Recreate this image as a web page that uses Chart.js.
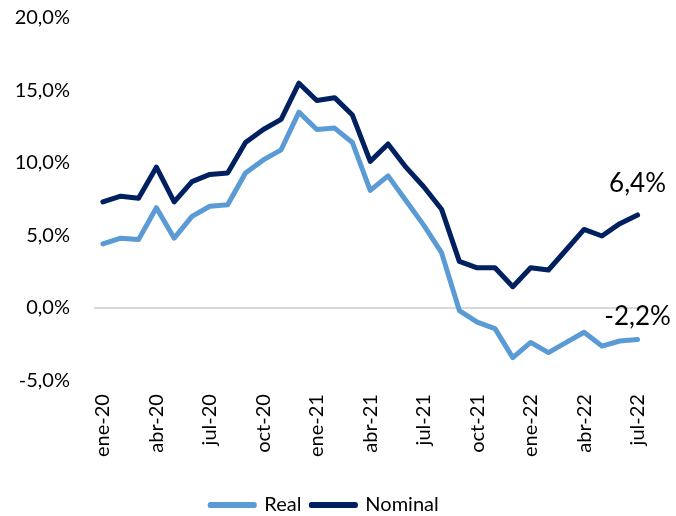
<!DOCTYPE html>
<html>
<head>
<meta charset="utf-8">
<script src="https://cdn.jsdelivr.net/npm/chart.js"></script>
<style>
  html, body { margin: 0; padding: 0; background: #fff; }
  #wrap { width: 676px; height: 516px; }
</style>
</head>
<body>
<div id="wrap"><canvas id="grafico" width="676" height="516"></canvas></div>
<script>
const meses = ['ene-20','feb-20','mar-20','abr-20','may-20','jun-20','jul-20','ago-20','sep-20','oct-20','nov-20','dic-20',
  'ene-21','feb-21','mar-21','abr-21','may-21','jun-21','jul-21','ago-21','sep-21','oct-21','nov-21','dic-21',
  'ene-22','feb-22','mar-22','abr-22','may-22','jun-22','jul-22'];
const real = [4.4, 4.8, 4.7, 6.9, 4.8, 6.3, 7.0, 7.1, 9.3, 10.2, 10.9, 13.5,
  12.3, 12.4, 11.4, 8.1, 9.1, 7.4, 5.7, 3.8, -0.2, -1.0, -1.45, -3.45,
  -2.4, -3.1, -2.4, -1.7, -2.65, -2.3, -2.2];
const nominal = [7.3, 7.7, 7.55, 9.7, 7.3, 8.7, 9.2, 9.3, 11.4, 12.3, 13.0, 15.5,
  14.3, 14.5, 13.3, 10.1, 11.3, 9.7, 8.35, 6.8, 3.2, 2.75, 2.75, 1.45,
  2.75, 2.6, 4.0, 5.4, 4.95, 5.8, 6.4];
const yTicks = [-5, 0, 5, 10, 15, 20];
const etiquetasFinal = ['-2,2%', '6,4%'];

const fuente = 'Lato, "Liberation Sans", sans-serif';
const fmt = v => v.toFixed(1).replace('.', ',') + '%';

// etiquetas al final de cada serie
const finalLabels = {
  id: 'finalLabels',
  afterDatasetsDraw(chart) {
    const c = chart.ctx;
    c.save();
    c.font = '26px ' + fuente;
    c.fillStyle = '#000';
    c.textAlign = 'center';
    c.textBaseline = 'bottom';
    chart.data.datasets.forEach((ds, i) => {
      const pt = chart.getDatasetMeta(i).data[ds.data.length - 1];
      c.fillText(etiquetasFinal[i], pt.x, pt.y - (i === 1 ? 18 : 10));
    });
    c.restore();
  }
};

new Chart(document.getElementById('grafico'), {
  type: 'line',
  data: {
    labels: meses,
    datasets: [{
      label: 'Real',
      data: real,
      borderColor: '#5B9BD5',
      backgroundColor: '#5B9BD5',
      borderWidth: 5,
      pointRadius: 0,
      borderJoinStyle: 'round',
      borderCapStyle: 'round',
      tension: 0
    }, {
      label: 'Nominal',
      data: nominal,
      borderColor: '#002060',
      backgroundColor: '#002060',
      borderWidth: 5,
      pointRadius: 0,
      borderJoinStyle: 'round',
      borderCapStyle: 'round',
      tension: 0
    }]
  },
  options: {
    responsive: false,
    animation: false,
    layout: { padding: { top: 18, right: 27, left: 0, bottom: -9 } },
    plugins: {
      tooltip: { enabled: false },
      legend: {
        position: 'bottom',
        labels: {
          font: { family: fuente, size: 20 },
          color: '#000',
          boxWidth: 44,
          boxHeight: 1,
          padding: 10
        }
      }
    },
    scales: {
      x: {
        offset: true,
        afterFit: s => { s.height += 14; s.paddingTop = 0; },
        grid: { display: false, drawTicks: false },
        border: { display: false },
        ticks: {
          autoSkip: false,
          maxRotation: 90,
          minRotation: 90,
          padding: 14,
          color: '#000',
          font: { family: fuente, size: 20 },
          callback: (v, i) => (i % 3 === 0 ? meses[i] : '')
        }
      },
      y: {
        min: -5,
        max: 20,
        afterBuildTicks: s => { s.ticks = yTicks.map(v => ({ value: v })); },
        afterFit: s => { s.width = 94; s.paddingTop = 0; s.paddingBottom = 0; },
        grid: {
          drawTicks: false,
          color: ctx => (ctx.tick && ctx.tick.value === 0 ? '#d9d9d9' : 'rgba(0,0,0,0)'),
          lineWidth: 2
        },
        border: { display: false },
        ticks: {
          padding: 24,
          color: '#000',
          font: { family: fuente, size: 20 },
          callback: v => fmt(v)
        }
      }
    }
  },
  plugins: [finalLabels]
});
</script>
</body>
</html>
